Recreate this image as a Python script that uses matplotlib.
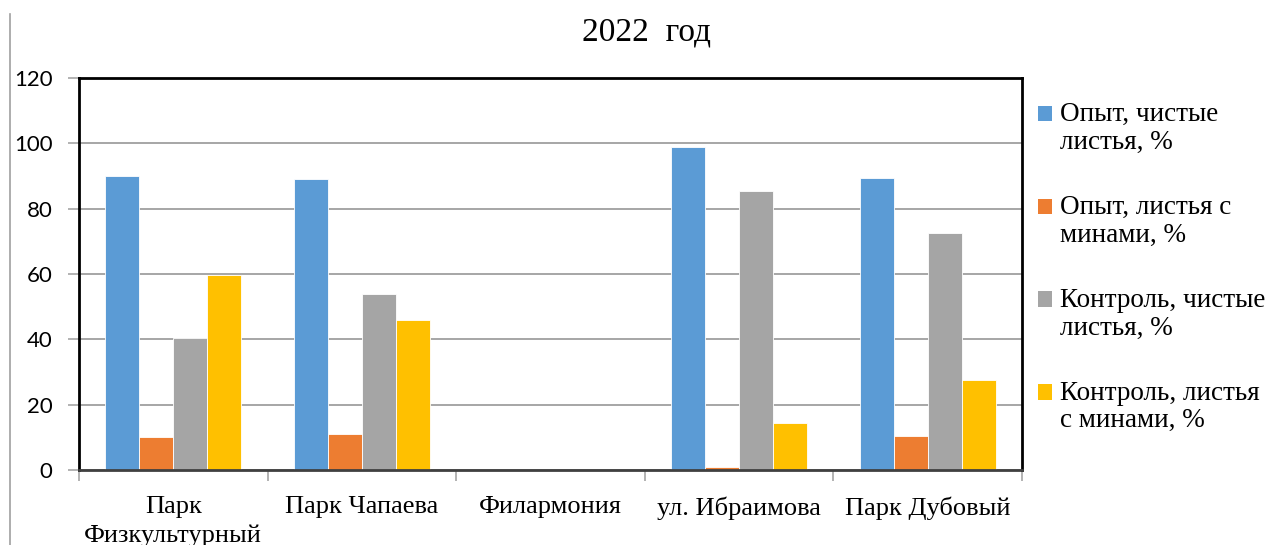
import matplotlib.pyplot as plt
import matplotlib.patches as mpatches
import numpy as np
from matplotlib.container import BarContainer
from matplotlib.lines import Line2D
from matplotlib.legend_handler import HandlerPatch
from matplotlib.ticker import MultipleLocator

categories = ["Парк\nФизкультурный", "Парк Чапаева", "Филармония", "ул. Ибраимова", "Парк Дубовый"]
series_names = ["Опыт, чистые\nлистья, %", "Опыт, листья с\nминами, %",
                "Контроль, чистые\nлистья, %", "Контроль, листья\nс минами, %"]
opyt_clean = [90, 89, 0, 99, 89.5]
opyt_mines = [10, 11, 0, 1, 10.5]
control_clean = [40.3, 54, 0, 85.5, 72.5]
control_mines = [59.7, 46, 0, 14.5, 27.5]
colors = ["#5B9BD5", "#ED7D31", "#A5A5A5", "#FFC000"]

serif = ["Liberation Serif", "DejaVu Serif"]

fig = plt.figure(figsize=(12.66, 5.45), dpi=100)
ax = fig.add_axes([79/1266, 1-470/545, (1022-79)/1266, (470-78)/545])

x = np.arange(len(categories))
w = 0.18
all_series = [opyt_clean, opyt_mines, control_clean, control_mines]
for k, vals in enumerate(all_series):
    ax.bar(x + (k-1.5)*w, vals, width=w, color=colors[k], label=series_names[k],
           edgecolor="white", linewidth=0.6, zorder=3)

ax.set_xlim(-0.5, len(categories)-0.5)
ax.set_ylim(0, 120)
ax.yaxis.set_major_locator(MultipleLocator(20))
ax.grid(axis="y", color="#A6A6A6", linewidth=1.4, zorder=0)

ax.set_xticks(x)
ax.set_xticklabels(categories, fontfamily=serif, fontsize=19, linespacing=1.35)
ax.set_xticks(np.arange(-0.5, len(categories), 1), minor=True)
ax.tick_params(axis="x", which="major", length=0, pad=19)
ax.tick_params(axis="x", which="minor", length=8, color="#A6A6A6", width=1.2)
ax.tick_params(axis="y", length=8, color="#A6A6A6", width=1.2, labelsize=16, pad=11)
for lab in ax.get_yticklabels():
    lab.set_fontfamily(["Lato", "DejaVu Sans"])

for s in ["top", "left", "right"]:
    ax.spines[s].set_color("black")
    ax.spines[s].set_linewidth(2)
ax.spines["bottom"].set_color("#404040")
ax.spines["bottom"].set_linewidth(2)
ax.spines["bottom"].set_zorder(4)

fig.text(647/1266, 1-32/545, "2022  год", ha="center", va="center",
         fontsize=24, fontfamily=serif)


# square sits next to the first line of each two-line label
def top_square(legend, orig_handle, xdescent, ydescent, width, height, fontsize):
    return mpatches.Rectangle((-xdescent, -ydescent + 10.8), width, height)


def first_child(tgt, src):
    tgt.update_from(src[0])
    tgt.set_edgecolor("none")


leg = fig.legend(loc="upper left", bbox_to_anchor=(1014/1266, 1-78/545), frameon=False,
                 prop={"family": serif, "size": 19.5}, handlelength=0.5, handleheight=0.5,
                 handletextpad=0.3, labelspacing=1.5,
                 handler_map={BarContainer: HandlerPatch(patch_func=top_square,
                                                         update_func=first_child)})
for t in leg.get_texts():
    t.set_linespacing(1.12)

fig.add_artist(Line2D([10/1266, 10/1266], [0, 1-14/545], color="#A0A0A0", linewidth=1.2))

fig.savefig("out.png", dpi=100)
